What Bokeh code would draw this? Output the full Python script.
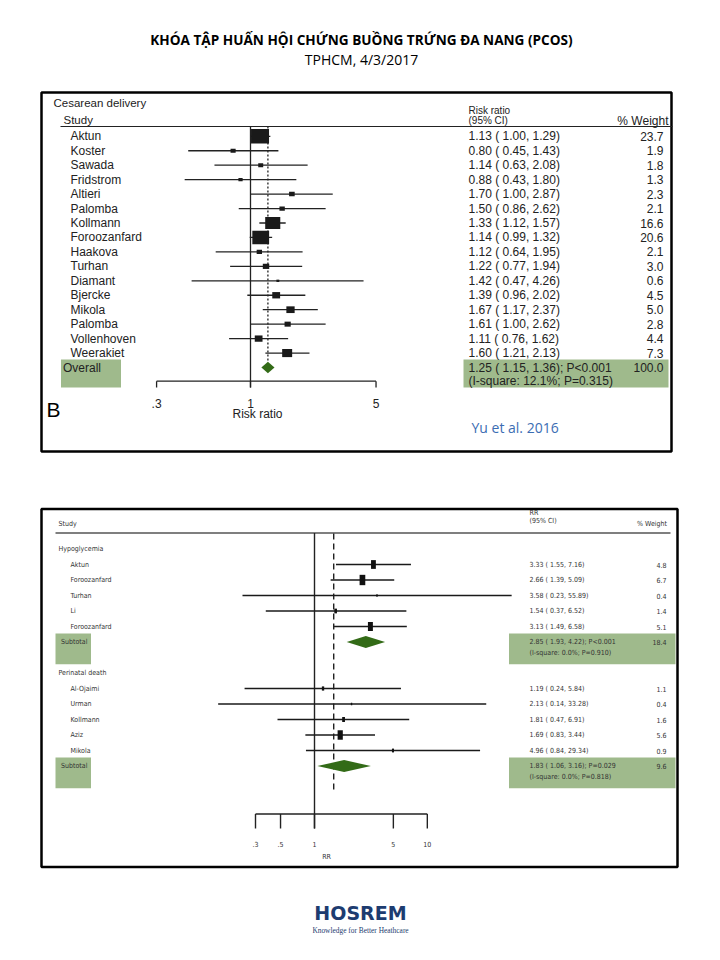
import math
from bokeh.plotting import figure
from bokeh.models import Range1d, LogScale
from bokeh.core.properties import value
from bokeh.embed import file_html
from bokeh.resources import INLINE

# ---------------- data: panel B, Cesarean delivery ----------------
cs_studies = ["Aktun", "Koster", "Sawada", "Fridstrom", "Altieri", "Palomba", "Kollmann",
              "Foroozanfard", "Haakova", "Turhan", "Diamant", "Bjercke", "Mikola", "Palomba",
              "Vollenhoven", "Weerakiet"]
cs_rr = [1.13, 0.80, 1.14, 0.88, 1.70, 1.50, 1.33, 1.14, 1.12, 1.22, 1.42, 1.39, 1.67, 1.61, 1.11, 1.60]
cs_lo = [1.00, 0.45, 0.63, 0.43, 1.00, 0.86, 1.12, 0.99, 0.64, 0.77, 0.47, 0.96, 1.17, 1.00, 0.76, 1.21]
cs_hi = [1.29, 1.43, 2.08, 1.80, 2.87, 2.62, 1.57, 1.32, 1.95, 1.94, 4.26, 2.02, 2.37, 2.62, 1.62, 2.13]
cs_w = [23.7, 1.9, 1.8, 1.3, 2.3, 2.1, 16.6, 20.6, 2.1, 3.0, 0.6, 4.5, 5.0, 2.8, 4.4, 7.3]
cs_overall = [1.25, 1.15, 1.36]
cs_overall_w = 100.0
cs_overall_p = "P<0.001"
cs_overall_isq = "(I-square: 12.1%; P=0.315)"
cs_ticks = [0.3, 1, 5]
cs_tick_labels = [".3", "1", "5"]

# ---------------- data: lower panel, neonatal outcomes ----------------
hypo_studies = ["Aktun", "Foroozanfard", "Turhan", "Li", "Foroozanfard"]
hypo_rr = [3.33, 2.66, 3.58, 1.54, 3.13]
hypo_lo = [1.55, 1.39, 0.23, 0.37, 1.49]
hypo_hi = [7.16, 5.09, 55.89, 6.52, 6.58]
hypo_w = [4.8, 6.7, 0.4, 1.4, 5.1]
hypo_sub = [2.85, 1.93, 4.22]
hypo_sub_w = 18.4
hypo_sub_p = "P<0.001"
hypo_sub_isq = "(I-square: 0.0%; P=0.910)"

peri_studies = ["Al-Ojaimi", "Urman", "Kollmann", "Aziz", "Mikola"]
peri_rr = [1.19, 2.13, 1.81, 1.69, 4.96]
peri_lo = [0.24, 0.14, 0.47, 0.83, 0.84]
peri_hi = [5.84, 33.28, 6.91, 3.44, 29.34]
peri_w = [1.1, 0.4, 1.6, 5.6, 0.9]
peri_sub = [1.83, 1.06, 3.16]
peri_sub_w = 9.6
peri_sub_p = "P=0.029"
peri_sub_isq = "(I-square: 0.0%; P=0.818)"

rr2_reference = 1.48
rr2_ticks = [0.3, 0.5, 1, 5, 10]
rr2_tick_labels = [".3", ".5", "1", "5", "10"]

# ---------------- canvas: page pixel coordinates ----------------
X0, X1 = 0, 704
Y0, Y1 = 0, 944
p = figure(width=704, height=944, x_range=Range1d(X0, X1), y_range=Range1d(Y1, Y0),
           output_backend="svg", toolbar_location=None, min_border=0,
           x_axis_location=None, y_axis_location=None, outline_line_color=None,
           background_fill_color="white", border_fill_color="white")
for g in p.grid:
    g.visible = False


def log_range(one_px, px_per_ln):
    return Range1d(math.exp((X0 - one_px) / px_per_ln), math.exp((X1 - one_px) / px_per_ln))


def row_range(first_px, step):
    return Range1d((Y1 - first_px) / step, (Y0 - first_px) / step)


p.extra_x_ranges = {"rr1": log_range(250, 78), "rr2": log_range(314, 49)}
p.extra_x_scales = {"rr1": LogScale(), "rr2": LogScale()}
p.extra_y_ranges = {"row1": row_range(135.8, 14.45), "row2": row_range(548.5, 15.5)}

SANS = value("Liberation Sans")
NARROW = value("DejaVu Sans Condensed")
SLIDE = value("Open Sans")


def txt(x, y, s, size, font, color="#222222", align="left", baseline="middle",
        style="normal", xr="default", yr="default"):
    xs = x if isinstance(x, list) else [x]
    ys = y if isinstance(y, list) else [y]
    ss = s if isinstance(s, list) else [s]
    if len(xs) == 1 and len(ss) > 1:
        xs = xs * len(ss)
    if len(ys) == 1 and len(ss) > 1:
        ys = ys * len(ss)
    p.text(x=xs, y=ys, text=ss, text_font=font, text_font_size=f"{size}px", text_color=color,
           text_align=align, text_baseline=baseline, text_font_style=style,
           x_range_name=xr, y_range_name=yr)


def ci_label(rr, lo, hi):
    return f"{rr:.2f} ( {lo:.2f}, {hi:.2f})"


GREEN_BOX = "#9fba8c"
DIAMOND = "#336b17"

# ---------------- slide title ----------------
txt(361, 38.5, "KHÓA TẬP HUẤN HỘI CHỨNG BUỒNG TRỨNG ĐA NANG (PCOS)", 13.6, SLIDE, "#000000",
    align="center", style="bold")
txt(361, 58.5, "TPHCM, 4/3/2017", 14, SLIDE, "#000000", align="center")

# ================= panel 1 =================
p.quad(left=[41], right=[671], top=[92], bottom=[451], fill_color=None,
       line_color="#000000", line_width=2.5)
txt(53, 102, "Cesarean delivery", 11.5, SANS)
txt(63, 119, "Study", 11.5, SANS)
txt(468, 110, "Risk ratio", 10, SANS)
txt(468, 119.5, "(95% CI)", 10, SANS)
txt(668, 120, "% Weight", 12, SANS, align="right")
p.segment(x0=[60], x1=[672], y0=[126], y1=[126], line_color="#222222", line_width=1.2)

n1 = len(cs_studies)
rows1 = list(range(n1))
ov_row = n1
# green box of the overall row
p.quad(left=[60.5, 463], right=[120.5, 668], top=[359, 359], bottom=[387, 387],
       fill_color=GREEN_BOX, line_color=None)

# reference lines
p.segment(x0=[1], x1=[1], y0=[126], y1=[387], x_range_name="rr1",
          line_color="#222222", line_width=1.3)
p.segment(x0=[cs_overall[0]], x1=[cs_overall[0]], y0=[126], y1=[361], x_range_name="rr1",
          line_color="#222222", line_width=1.3, line_dash="2 2")

# confidence intervals and weighted squares
p.segment(x0=cs_lo, x1=cs_hi, y0=rows1, y1=rows1, x_range_name="rr1", y_range_name="row1",
          line_color="#222222", line_width=1.3)
p.rect(x=cs_rr, y=rows1, width=[3.7 * math.sqrt(w) for w in cs_w],
       height=[3.0 * math.sqrt(w) for w in cs_w], width_units="screen", height_units="screen",
       x_range_name="rr1", y_range_name="row1", fill_color="#1a1a1a", line_color=None)
p.patches(xs=[[cs_overall[1], cs_overall[0], cs_overall[2], cs_overall[0]]],
          ys=[[ov_row, ov_row - 0.4, ov_row, ov_row + 0.4]],
          x_range_name="rr1", y_range_name="row1", fill_color=DIAMOND, line_color=None)

# text columns
txt(70, rows1, cs_studies, 12, SANS, yr="row1")
txt(468, rows1, [ci_label(r, l, h) for r, l, h in zip(cs_rr, cs_lo, cs_hi)], 12, SANS, yr="row1")
txt(663, rows1, [f"{w:.1f}" for w in cs_w], 12, SANS, align="right", yr="row1")
txt(62.5, ov_row, "Overall", 12, SANS, yr="row1")
txt(468, ov_row, ci_label(*cs_overall) + "; " + cs_overall_p, 12, SANS, yr="row1")
txt(663, ov_row, f"{cs_overall_w:.1f}", 12, SANS, align="right", yr="row1")
txt(468, ov_row + 0.9, cs_overall_isq, 12, SANS, yr="row1")

# axis
p.segment(x0=[min(cs_ticks)], x1=[max(cs_ticks)], y0=[380.7], y1=[380.7], x_range_name="rr1",
          line_color="#222222", line_width=1.3)
p.segment(x0=cs_ticks, x1=cs_ticks, y0=[380.7] * len(cs_ticks), y1=[387] * len(cs_ticks),
          x_range_name="rr1", line_color="#222222", line_width=1.3)
txt(cs_ticks, 403, cs_tick_labels, 12, SANS, align="center", xr="rr1")
txt(257, 413, "Risk ratio", 12, SANS, align="center")
txt(46, 409, "B", 21, SANS, "#000000")
txt(471, 427, "Yu et al. 2016", 14, SLIDE, "#3b6db3")

# ================= panel 2 =================
p.quad(left=[41], right=[677], top=[508.5], bottom=[866.5], fill_color=None,
       line_color="#000000", line_width=2.5)
C2 = "#333333"
FS2 = 7
txt(58, 523.5, "Study", FS2, NARROW, C2)
txt(529, 512, "RR", FS2, NARROW, C2)
txt(529, 520.5, "(95% CI)", FS2, NARROW, C2)
txt(666.5, 523.5, "% Weight", FS2, NARROW, C2, align="right")
p.segment(x0=[55], x1=[670], y0=[532.5], y1=[532.5], line_color="#555555", line_width=1.3)

hypo_rows = [1 + i for i in range(len(hypo_studies))]
hypo_sub_row = len(hypo_studies) + 1
peri_label_row = hypo_sub_row + 2
peri_rows = [peri_label_row + 1 + i for i in range(len(peri_studies))]
peri_sub_row = peri_label_row + len(peri_studies) + 1

for srow in (hypo_sub_row, peri_sub_row):
    p.quad(left=[55, 508.5], right=[90.5, 675], top=[srow - 0.55, srow - 0.55],
           bottom=[srow + 1.43, srow + 1.43], fill_color=GREEN_BOX, line_color=None,
           y_range_name="row2")

p.segment(x0=[1], x1=[1], y0=[532.5], y1=[828], x_range_name="rr2",
          line_color="#222222", line_width=1.4)
p.segment(x0=[rr2_reference], x1=[rr2_reference], y0=[533], y1=[793], x_range_name="rr2",
          line_color="#222222", line_width=1.4, line_dash="6 4")

all_rows = hypo_rows + peri_rows
all_rr = hypo_rr + peri_rr
all_lo = hypo_lo + peri_lo
all_hi = hypo_hi + peri_hi
all_w = hypo_w + peri_w
p.segment(x0=all_lo, x1=all_hi, y0=all_rows, y1=all_rows, x_range_name="rr2",
          y_range_name="row2", line_color="#1a1a1a", line_width=1.5)
p.rect(x=all_rr, y=all_rows, width=[2.2 * math.sqrt(w) for w in all_w],
       height=[4.0 * math.sqrt(w) for w in all_w], width_units="screen", height_units="screen",
       x_range_name="rr2", y_range_name="row2", fill_color="#111111", line_color=None)
p.patches(xs=[[s[1], s[0], s[2], s[0]] for s in (hypo_sub, peri_sub)],
          ys=[[r, r - 0.38, r, r + 0.38] for r in (hypo_sub_row, peri_sub_row)],
          x_range_name="rr2", y_range_name="row2", fill_color=DIAMOND, line_color=None)

txt(58, 0, "Hypoglycemia", FS2, NARROW, C2, yr="row2")
txt(58, peri_label_row, "Perinatal death", FS2, NARROW, C2, yr="row2")
txt(70, all_rows, hypo_studies + peri_studies, FS2, NARROW, C2, yr="row2")
txt(529, all_rows, [ci_label(r, l, h) for r, l, h in zip(all_rr, all_lo, all_hi)], FS2, NARROW,
    C2, yr="row2")
txt(666, all_rows, [f"{w:.1f}" for w in all_w], FS2, NARROW, C2, align="right", yr="row2")
for srow, sub, sw, sp, sisq in ((hypo_sub_row, hypo_sub, hypo_sub_w, hypo_sub_p, hypo_sub_isq),
                                (peri_sub_row, peri_sub, peri_sub_w, peri_sub_p, peri_sub_isq)):
    txt(60.5, srow, "Subtotal", FS2, NARROW, C2, yr="row2")
    txt(529, srow, ci_label(*sub) + "; " + sp, FS2, NARROW, C2, yr="row2")
    txt(666, srow, f"{sw:.1f}", FS2, NARROW, C2, align="right", yr="row2")
    txt(529, srow + 0.7, sisq, FS2, NARROW, C2, yr="row2")

# axis
p.segment(x0=[min(rr2_ticks)], x1=[max(rr2_ticks)], y0=[813.5], y1=[813.5], x_range_name="rr2",
          line_color="#222222", line_width=1.4)
p.segment(x0=rr2_ticks, x1=rr2_ticks, y0=[813.5] * len(rr2_ticks), y1=[828] * len(rr2_ticks),
          x_range_name="rr2", line_color="#222222", line_width=1.4)
txt(rr2_ticks, 843.5, rr2_tick_labels, FS2, NARROW, C2, align="center", xr="rr2")
txt(326, 856, "RR", FS2, NARROW, C2, align="center")

# ---------------- logo ----------------
txt(360, 912, "HOSREM", 19, value("DejaVu Sans"), "#1d3c70", align="center", style="bold")
txt(360, 929.5, "Knowledge for Better Heathcare", 7.4, value("Liberation Serif"), "#1d3c70",
    align="center")

open("out.html", "w").write(file_html(p, INLINE))
